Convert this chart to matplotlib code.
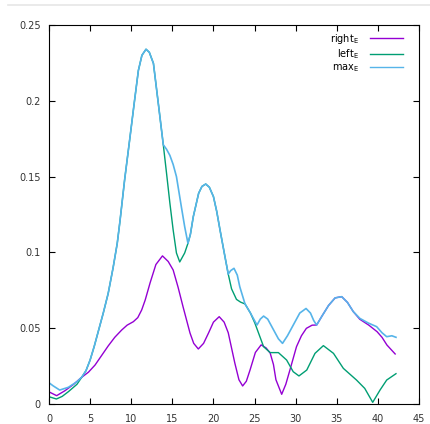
import matplotlib
matplotlib.use("Agg")
import matplotlib.pyplot as plt
from matplotlib.lines import Line2D

# ---- data ----
x_right = [0, 0.93, 1.95, 3.0, 3.97, 4.8, 5.6, 6.4, 7.2, 8.0, 8.84, 9.5, 10.26, 10.8, 11.27, 11.7,
           12.3, 13.0, 13.8, 14.5, 15.1, 15.7, 16.3, 17.15, 17.6, 18.16, 18.8, 19.4, 20.0, 20.7,
           21.3, 21.8, 22.6, 23.1, 23.55, 24.0, 24.45, 25.1, 25.8, 26.4, 26.9, 27.3, 27.6, 28.3,
           28.8, 29.3, 30.1, 30.7, 31.3, 32.0, 32.55, 33.2, 34.0, 34.8, 35.6, 36.3, 37.0, 37.8,
           38.9, 39.9, 40.5, 41.1, 42.1]
y_right = [0.008, 0.0055, 0.0088, 0.013, 0.0176, 0.021, 0.0257, 0.032, 0.0383, 0.044, 0.0488, 0.052,
           0.0543, 0.057, 0.062, 0.0686, 0.080, 0.092, 0.0977, 0.094, 0.0884, 0.077, 0.0642, 0.0468,
           0.040, 0.0363, 0.040, 0.0468, 0.054, 0.0576, 0.054, 0.047, 0.027, 0.016, 0.0119, 0.015,
           0.0224, 0.034, 0.039, 0.037, 0.0336, 0.026, 0.016, 0.0064, 0.013, 0.0224, 0.0378, 0.045,
           0.0499, 0.052, 0.0521, 0.058, 0.065, 0.070, 0.0708, 0.067, 0.061, 0.0559, 0.052, 0.0477,
           0.044, 0.0389, 0.033]

x_left = [0, 0.9, 1.6, 2.35, 3.4, 4.0, 4.5, 5.0, 5.5, 6.0, 6.6, 7.2, 7.8, 8.3, 8.64, 9.2, 9.85,
          10.4, 10.87, 11.3, 11.8, 12.2, 12.7, 13.3, 13.9, 14.3, 14.7, 15.1, 15.5, 15.9, 16.5,
          16.9, 17.2, 17.55, 18.2, 18.6, 19.06, 19.5, 20.0, 20.4, 20.8, 21.4, 21.8, 22.2, 22.8,
          23.3, 23.84, 24.5, 25.05, 25.5, 26.1, 26.9, 27.9, 28.9, 29.7, 30.4, 31.35, 32.35, 33.37,
          34.6, 35.8, 37.4, 38.4, 39.37, 40.26, 41.07, 42.2]
y_left = [0.0048, 0.0033, 0.005, 0.0081, 0.013, 0.0178, 0.022, 0.029, 0.038, 0.048, 0.060, 0.073,
          0.090, 0.106, 0.121, 0.148, 0.176, 0.200, 0.220, 0.230, 0.234, 0.232, 0.2247, 0.198,
          0.171, 0.152, 0.1326, 0.1148, 0.0996, 0.0937, 0.0996, 0.106, 0.112, 0.1236, 0.139,
          0.1435, 0.1451, 0.143, 0.1368, 0.127, 0.1148, 0.0972, 0.0857, 0.076, 0.069, 0.0672,
          0.066, 0.060, 0.0532, 0.0466, 0.0378, 0.0339, 0.0339, 0.029, 0.0213, 0.0185, 0.0224,
          0.0334, 0.0385, 0.0334, 0.0235, 0.0158, 0.0103, 0.0011, 0.0092, 0.0158, 0.020]

x_max = [0, 0.5, 1.3, 2.35, 3.4, 4.0, 4.5, 5.0, 5.5, 6.0, 6.6, 7.2, 7.8, 8.3, 8.64, 9.2, 9.85,
         10.4, 10.87, 11.3, 11.8, 12.2, 12.7, 13.3, 13.9, 14.3, 14.7, 15.1, 15.5, 16.1, 16.5,
         16.9, 17.2, 17.55, 18.2, 18.6, 19.06, 19.5, 20.0, 20.4, 20.8, 21.4, 21.8, 22.1, 22.5,
         22.9, 23.2, 23.84, 24.5, 25.0, 25.3, 25.7, 26.1, 26.6, 27.3, 27.9, 28.4, 29.0, 29.8,
         30.5, 31.26, 31.8, 32.2, 32.55, 33.2, 34.0, 34.8, 35.6, 36.3, 37.0, 37.8, 38.8, 39.85,
         40.5, 41.07, 41.7, 42.2]
y_max = [0.014, 0.012, 0.0092, 0.011, 0.0147, 0.0178, 0.022, 0.029, 0.038, 0.048, 0.060, 0.073,
         0.090, 0.106, 0.121, 0.148, 0.176, 0.200, 0.220, 0.230, 0.234, 0.232, 0.2247, 0.198,
         0.171, 0.168, 0.164, 0.158, 0.150, 0.130, 0.117, 0.106, 0.112, 0.1236, 0.139, 0.1435,
         0.1451, 0.143, 0.1368, 0.127, 0.1148, 0.0972, 0.0857, 0.088, 0.0895, 0.085, 0.0774,
         0.066, 0.060, 0.055, 0.0521, 0.056, 0.058, 0.056, 0.049, 0.043, 0.040, 0.045, 0.053,
         0.060, 0.063, 0.060, 0.055, 0.0521, 0.058, 0.065, 0.070, 0.0708, 0.067, 0.061, 0.0565,
         0.0535, 0.051, 0.047, 0.0444, 0.045, 0.044]

series_labels = [r"right$_\mathregular{E}$", r"left$_\mathregular{E}$", r"max$_\mathregular{E}$"]
series_colors = ["#9400d3", "#009e73", "#56b4e9"]
x_ticks = [0, 5, 10, 15, 20, 25, 30, 35, 40, 45]
y_ticks = [0, 0.05, 0.1, 0.15, 0.2, 0.25]
y_tick_labels = ["0", "0.05", "0.1", "0.15", "0.2", "0.25"]

# ---- figure ----
W, H = 430, 424
fig = plt.figure(figsize=(W / 100, H / 100), dpi=100)
ax = fig.add_axes([49 / W, (H - 404) / H, (419 - 49) / W, (404 - 25) / H])

line_widths = [1.0, 1.0, 1.2]
for xs, ys, lab, col, lw in zip([x_right, x_left, x_max], [y_right, y_left, y_max],
                                series_labels, series_colors, line_widths):
    ax.plot(xs, ys, color=col, lw=lw, label=lab)

ax.set_xlim(0, 45)
ax.set_ylim(0, 0.25)
ax.set_xticks(x_ticks)
ax.set_yticks(y_ticks)
ax.set_yticklabels(y_tick_labels)
ax.tick_params(direction="in", length=4, width=0.8, top=True, right=True,
               labelsize=7, labelcolor="#333333", pad=6)
ax.tick_params(axis="x", pad=7)
for s in ax.spines.values():
    s.set_linewidth(0.8)

leg = ax.legend(loc="upper right", frameon=False, markerfirst=False, fontsize=7,
                handlelength=3.4, handletextpad=1.1, labelspacing=0.15,
                borderaxespad=0.3, bbox_to_anchor=(0.975, 1.0))
for h in leg.get_lines():
    h.set_linewidth(1.0)

# faint page line at very top
fig.add_artist(Line2D([8 / W, 1.0], [1 - 5 / H, 1 - 5 / H], color="#e6e6e6", lw=1.2))

fig.savefig("out.png", dpi=100)
